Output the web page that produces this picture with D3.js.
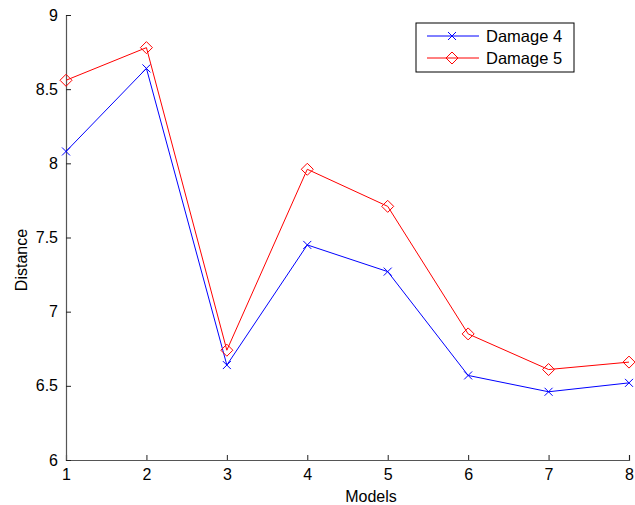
<!DOCTYPE html>
<html>
<head>
<meta charset="utf-8">
<script src="https://cdn.jsdelivr.net/npm/d3@7"></script>
<style>
  body { margin: 0; background: #fff; }
  text { font-family: "Liberation Sans", Arial, sans-serif; }
</style>
</head>
<body>
<div id="chart"></div>
<script>
// chart data
var models = [1, 2, 3, 4, 5, 6, 7, 8];
var damage4 = [8.08, 8.64, 6.64, 7.45, 7.27, 6.57, 6.46, 6.52];
var damage5 = [8.56, 8.78, 6.74, 7.96, 7.71, 6.85, 6.61, 6.66];
var yTicks = [6, 6.5, 7, 7.5, 8, 8.5, 9];
var seriesNames = ["Damage 4", "Damage 5"];

var svgWidth = 635;
var svgHeight = 505;

var margin = { top: 15, right: 6, bottom: 45, left: 66 };
var width = svgWidth - margin.left - margin.right;
var height = svgHeight - margin.top - margin.bottom;

var svg = d3.select("#chart")
  .append("svg")
  .attr("width", svgWidth)
  .attr("height", svgHeight);

var chart = svg.append("g")
  .attr("transform", `translate(${margin.left}, ${margin.top})`);

var xScale = d3.scaleLinear().domain([1, 8]).range([0, width]);
var yScale = d3.scaleLinear().domain([6, 9]).range([height, 0]);

// axes: ticks point inward like matlab
var bottomAxis = d3.axisBottom(xScale).tickValues(models).tickSize(-5).tickPadding(9).tickFormat(d3.format("d"));
var leftAxis = d3.axisLeft(yScale).tickValues(yTicks).tickSize(-5).tickPadding(8).tickFormat(d => d);

var gx = chart.append("g")
  .attr("transform", `translate(0, ${height})`)
  .call(bottomAxis);
var gy = chart.append("g").call(leftAxis);

[gx, gy].forEach(function(g) {
  g.select(".domain").attr("stroke", "#555").attr("stroke-width", 1.2);
  g.selectAll(".tick line").attr("stroke", "#222");
  g.selectAll(".tick text").attr("fill", "#000").style("font-size", "16px");
});

// axis labels (placed where the reference has them)
svg.append("text")
  .attr("x", 371)
  .attr("y", 502)
  .attr("text-anchor", "middle")
  .style("font-size", "16px")
  .text("Models");

svg.append("text")
  .attr("transform", "translate(27, 260) rotate(-90)")
  .attr("text-anchor", "middle")
  .style("font-size", "16px")
  .text("Distance");

var line = d3.line()
  .x((d, i) => xScale(models[i]))
  .y(d => yScale(d));

var colors = ["#0000ff", "#ff0000"];
var allSeries = [damage4, damage5];

function drawMarker(g, kind, color) {
  if (kind === 0) {
    g.append("path").attr("d", "M-4,-4L4,4M-4,4L4,-4")
      .attr("stroke", color).attr("fill", "none").attr("stroke-width", 1);
  } else {
    g.append("path").attr("d", "M0,-6L6,0L0,6L-6,0Z")
      .attr("stroke", color).attr("fill", "none").attr("stroke-width", 1);
  }
}

allSeries.forEach(function(vals, s) {
  chart.append("path")
    .datum(vals)
    .attr("d", line)
    .attr("fill", "none")
    .attr("stroke", colors[s])
    .attr("stroke-width", 1);

  chart.selectAll(".m" + s)
    .data(vals)
    .enter()
    .append("g")
    .attr("class", "m" + s)
    .attr("transform", (d, i) => `translate(${xScale(models[i])}, ${yScale(d)})`)
    .each(function() { drawMarker(d3.select(this), s, colors[s]); });
});

// legend
var legend = svg.append("g").attr("transform", "translate(416, 23)");
legend.append("rect")
  .attr("width", 158).attr("height", 49)
  .attr("fill", "#fff").attr("stroke", "#000").attr("stroke-width", 1);

seriesNames.forEach(function(name, s) {
  var row = legend.append("g").attr("transform", `translate(0, ${13 + s * 22})`);
  row.append("line").attr("x1", 11).attr("x2", 63)
    .attr("stroke", colors[s]).attr("stroke-width", 1);
  var mk = row.append("g").attr("transform", "translate(36, 0)");
  drawMarker(mk, s, colors[s]);
  row.append("text").attr("x", 70).attr("y", 6)
    .style("font-size", "16.5px")
    .text(name);
});
</script>
</body>
</html>
